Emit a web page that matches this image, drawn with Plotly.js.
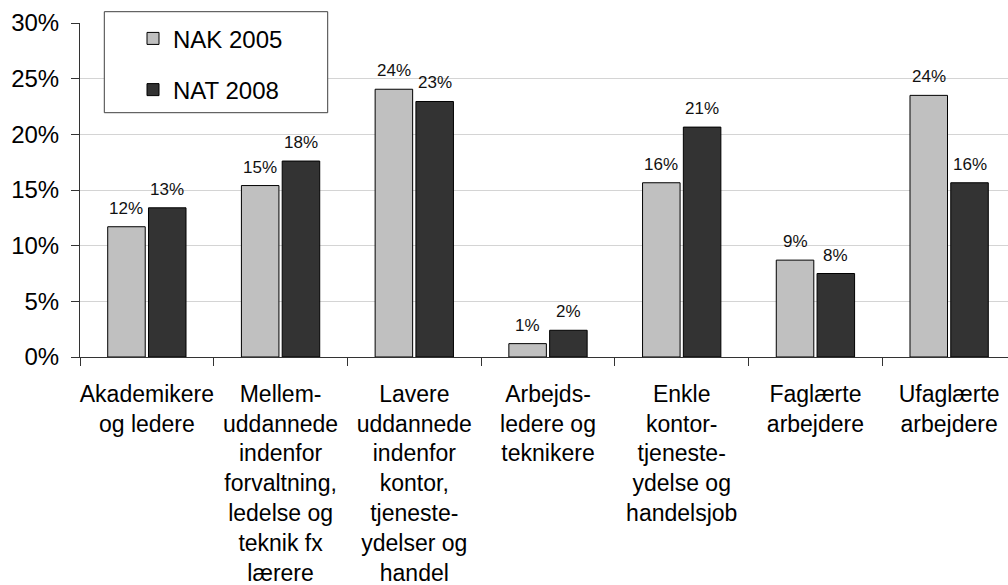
<!DOCTYPE html>
<html>
<head>
<meta charset="utf-8">
<script src="https://cdn.plot.ly/plotly-3.0.1.min.js"></script>
<style>
html, body { margin:0; padding:0; overflow:hidden; background:#fff; }
#chart { width:1020px; height:585px; }
</style>
</head>
<body>
<div id="chart"></div>
<script>
const categories = [
  "Akademikere<br>og ledere",
  "Mellem-<br>uddannede<br>indenfor<br>forvaltning,<br>ledelse og<br>teknik fx<br>lærere",
  "Lavere<br>uddannede<br>indenfor<br>kontor,<br>tjeneste-<br>ydelser og<br>handel",
  "Arbejds-<br>ledere og<br>teknikere",
  "Enkle<br>kontor-<br>tjeneste-<br>ydelse og<br>handelsjob",
  "Faglærte<br>arbejdere",
  "Ufaglærte<br>arbejdere"
];
const nak2005 = [11.7, 15.4, 24.05, 1.2, 15.65, 8.7, 23.5];
const nat2008 = [13.4, 17.6, 22.95, 2.4, 20.65, 7.5, 15.65];
const seriesNames = ["NAK 2005", "NAT 2008"];
const yTicks = [0, 5, 10, 15, 20, 25, 30];
const yTickText = ["0%", "5%", "10%", "15%", "20%", "25%", "30%"];

const FONT = '"Liberation Sans", Arial, sans-serif';
const W = 1020, H = 585;
const margin = {l: 80, r: 4, t: 23, b: 228};
const bargap = 0.39;
const plotW = W - margin.l - margin.r;
const catW = plotW / categories.length;
const shift = catW * (1 - bargap) / 4;

const traces = [
  {type:'bar', name: seriesNames[0], x: categories, y: nak2005, legendgroup:'a',
   marker:{color:'#c0c0c0', line:{color:'#000', width:1}}, hoverinfo:'y'},
  {type:'bar', name: seriesNames[1], x: categories, y: nat2008, legendgroup:'b',
   marker:{color:'#333333', line:{color:'#000', width:1}}, hoverinfo:'y'}
];

const annotations = [];
[nak2005, nat2008].forEach((vals, si) => {
  vals.forEach((v, i) => {
    annotations.push({
      x: categories[i], y: v, xref:'x', yref:'y',
      text: Math.round(v) + '%', showarrow:false,
      xanchor:'center', yanchor:'bottom',
      xshift: si === 0 ? -shift : shift, yshift: 7,
      font:{family: FONT, size:17, color:'#111'}
    });
  });
});

const layout = {
  width: W, height: H, margin: margin,
  paper_bgcolor:'#fff', plot_bgcolor:'#fff',
  font:{family: FONT, color:'#000'},
  barmode:'group', bargap: bargap, bargroupgap: 0.08,
  showlegend: true,
  legend:{
    x: (133 - margin.l) / plotW, xanchor:'left',
    y: 1.02, yanchor:'top',
    bgcolor:'rgba(0,0,0,0)', borderwidth:0,
    font:{family: FONT, size:24, color:'#000'},
    traceorder:'grouped', tracegroupgap: 17
  },
  xaxis:{
    type:'category', tickson:'boundaries', ticks:'outside', ticklen:8, tickcolor:'#333',
    showline:true, linecolor:'#333', linewidth:1, showgrid:false, zeroline:false,
    tickfont:{family: FONT, size:23, color:'#000'}, tickangle:0,
    ticklabelstandoff: 16, automargin:false
  },
  yaxis:{
    range:[0, 30], tickmode:'array', tickvals: yTicks, ticktext: yTickText,
    ticks:'outside', ticklen:8, tickcolor:'#333',
    showline:true, linecolor:'#333', linewidth:1, showgrid:true, gridcolor:'#d4d4d4', gridwidth:1,
    zeroline:false, tickfont:{family: FONT, size:24, color:'#000'},
    ticklabelstandoff: 7, automargin:false
  },
  shapes:[{
    type:'rect', xref:'paper', yref:'paper',
    x0:(104.3 - margin.l)/plotW, x1:(327.7 - margin.l)/plotW,
    y0:(H - margin.b - 112.7)/(H - margin.t - margin.b),
    y1:(H - margin.b - 11.7)/(H - margin.t - margin.b),
    fillcolor:'#fff', line:{color:'#404040', width:1}, layer:'above'
  }],
  annotations: annotations
};

Plotly.newPlot('chart', traces, layout, {displayModeBar:false, staticPlot:true});
</script>
</body>
</html>
